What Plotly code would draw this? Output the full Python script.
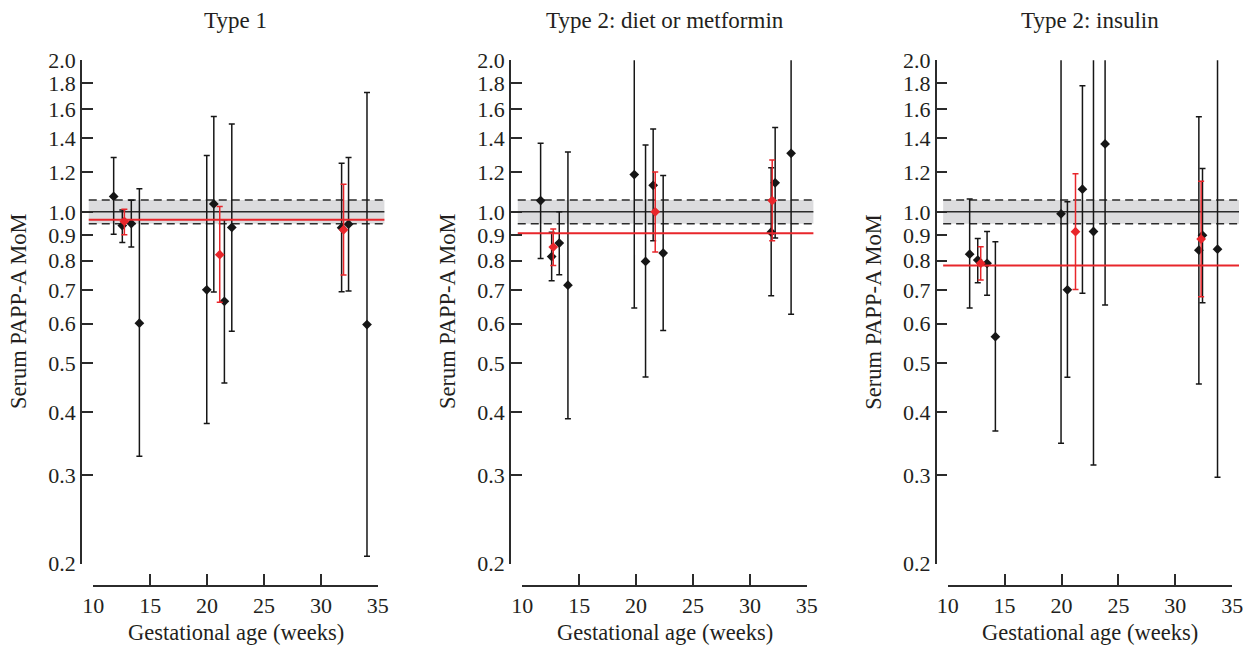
import math
import plotly.graph_objects as go

# ---------------- data ----------------
panel_titles = ["Type 1", "Type 2: diet or metformin", "Type 2: insulin"]

# Type 1 – individual studies (black)
t1_week = [11.79, 12.55, 13.34, 14.05, 19.97, 20.59, 21.52, 22.17, 31.82, 32.43, 34.05]
t1_mom = [1.073, 0.939, 0.948, 0.601, 0.700, 1.037, 0.664, 0.931, 0.930, 0.945, 0.597]
t1_lo = [0.903, 0.869, 0.851, 0.327, 0.380, 0.693, 0.457, 0.579, 0.694, 0.696, 0.207]
t1_hi = [1.282, 1.009, 1.055, 1.112, 1.294, 1.546, 0.964, 1.495, 1.249, 1.282, 1.727]
# Type 1 – pooled by trimester (red)
t1_pool_week = [12.73, 21.11, 31.99]
t1_pool_mom = [0.957, 0.822, 0.921]
t1_pool_lo = [0.900, 0.661, 0.749]
t1_pool_hi = [1.012, 1.025, 1.135]
t1_overall = 0.964

# Type 2 diet or metformin – individual studies
t2d_week = [11.61, 12.58, 13.25, 14.01, 19.84, 20.83, 21.50, 22.38, 31.87, 32.22, 33.62]
t2d_mom = [1.053, 0.815, 0.867, 0.715, 1.186, 0.797, 1.129, 0.828, 0.911, 1.142, 1.307]
t2d_lo = [0.808, 0.730, 0.750, 0.388, 0.644, 0.470, 0.876, 0.581, 0.681, 0.887, 0.626]
t2d_hi = [1.369, 0.911, 1.000, 1.315, 2.350, 1.358, 1.461, 1.181, 1.224, 1.470, 2.200]
# Type 2 diet or metformin – pooled
t2d_pool_week = [12.72, 21.68, 31.96]
t2d_pool_mom = [0.851, 1.000, 1.053]
t2d_pool_lo = [0.782, 0.832, 0.876]
t2d_pool_hi = [0.925, 1.200, 1.268]
t2d_overall = 0.907

# Type 2 insulin – individual studies
t2i_week = [11.93, 12.64, 13.46, 14.19, 19.96, 20.52, 21.84, 22.81, 23.83, 32.07, 32.39, 33.71]
t2i_mom = [0.824, 0.802, 0.790, 0.565, 0.991, 0.700, 1.109, 0.914, 1.364, 0.839, 0.898, 0.843]
t2i_lo = [0.644, 0.723, 0.683, 0.367, 0.347, 0.469, 0.689, 0.314, 0.653, 0.455, 0.660, 0.297]
t2i_hi = [1.060, 0.885, 0.914, 0.872, 2.400, 1.047, 1.781, 2.250, 2.300, 1.544, 1.219, 2.600]
# Type 2 insulin – pooled
t2i_pool_week = [12.90, 21.23, 32.27]
t2i_pool_mom = [0.790, 0.913, 0.883]
t2i_pool_lo = [0.732, 0.701, 0.678]
t2i_pool_hi = [0.852, 1.190, 1.150]
t2i_overall = 0.782

# unaffected reference: 1.0 MoM with its interval
ref_mom = 1.0
ref_lo = 0.947
ref_hi = 1.056
ref_span = [9.6, 35.6]

y_ticks = [0.2, 0.3, 0.4, 0.5, 0.6, 0.7, 0.8, 0.9, 1.0, 1.2, 1.4, 1.6, 1.8, 2.0]
x_ticks = [10, 15, 20, 25, 30, 35]

panels = [
    (t1_week, t1_mom, t1_lo, t1_hi, t1_pool_week, t1_pool_mom, t1_pool_lo, t1_pool_hi, t1_overall),
    (t2d_week, t2d_mom, t2d_lo, t2d_hi, t2d_pool_week, t2d_pool_mom, t2d_pool_lo, t2d_pool_hi, t2d_overall),
    (t2i_week, t2i_mom, t2i_lo, t2i_hi, t2i_pool_week, t2i_pool_mom, t2i_pool_lo, t2i_pool_hi, t2i_overall),
]

# ---------------- layout geometry (pixels) ----------------
W, H = 1251, 647
yaxis_px = [82.0, 511.0, 936.7]      # left spine of each panel
x10_px = [93.3, 522.3, 947.7]        # where week 10 sits
px_per_week = 11.38
y_top_px, y_bot_px = 60.3, 563.7     # 2.0 and 0.2
xaxis_px = 584.5                     # bottom spine

FONT = "Liberation Serif, DejaVu Serif, serif"
TXT = "#231f20"
LINE = "#2b2b2b"
RED = "#e8262b"
BLACK = "#161616"
BAND = "#dcdcde"


def fx(p):
    return p / W


def fy(p):
    return 1 - p / H


fig = go.Figure()
layout = dict(
    template="none",
    width=W, height=H,
    margin=dict(l=0, r=0, t=0, b=0, pad=0),
    paper_bgcolor="white", plot_bgcolor="rgba(0,0,0,0)",
    showlegend=False,
    font=dict(family=FONT, color=TXT, size=22),
    annotations=[],
)

for i, (wk, mom, lo, hi, pwk, pmom, plo, phi, overall) in enumerate(panels):
    d = i + 1          # data axes
    a = i + 4          # bottom-spine axes
    xd, yd = f"x{d}", f"y{d}"
    xa, ya = f"x{a}", f"y{a}"

    x_left = 10 - (x10_px[i] - yaxis_px[i]) / px_per_week
    x_right = ref_span[1]
    layout[f"xaxis{d}"] = dict(
        domain=[fx(yaxis_px[i]), fx(x10_px[i] + (x_right - 10) * px_per_week)],
        range=[x_left, x_right], visible=False, anchor=yd, fixedrange=True,
        automargin=False,
    )
    layout[f"yaxis{d}"] = dict(
        domain=[fy(y_bot_px), fy(y_top_px)],
        type="log", range=[math.log10(min(y_ticks)), math.log10(max(y_ticks))],
        anchor=xd, showgrid=False, zeroline=False, automargin=False,
        showline=True, linecolor=LINE, linewidth=1.5,
        ticks="inside", ticklen=11, tickwidth=1.5, tickcolor=LINE,
        tickvals=y_ticks, ticktext=[f"{v:.1f}" for v in y_ticks],
        tickfont=dict(family=FONT, size=22, color=TXT),
    )
    layout[f"xaxis{a}"] = dict(
        domain=[fx(x10_px[i]), fx(x10_px[i] + 25 * px_per_week)],
        range=[min(x_ticks), max(x_ticks)], anchor=ya, showgrid=False, zeroline=False,
        automargin=False,
        showline=True, linecolor=LINE, linewidth=1.5,
        ticks="inside", ticklen=11, tickwidth=1.5, tickcolor=LINE,
        tickvals=x_ticks, tickfont=dict(family=FONT, size=22, color=TXT),
    )
    layout[f"yaxis{a}"] = dict(
        domain=[fy(xaxis_px), fy(xaxis_px) + 0.01], range=[0, 1],
        visible=False, anchor=xa, automargin=False,
    )

    # keeps the bottom-spine subplot alive
    fig.add_trace(go.Scatter(x=[], y=[], xaxis=xa, yaxis=ya, hoverinfo="skip"))

    # reference band and its limits
    fig.add_trace(go.Scatter(
        x=[ref_span[0], ref_span[1], ref_span[1], ref_span[0]],
        y=[ref_lo, ref_lo, ref_hi, ref_hi],
        fill="toself", fillcolor=BAND, mode="none",
        xaxis=xd, yaxis=yd, hoverinfo="skip",
    ))
    for lim in (ref_lo, ref_hi):
        fig.add_trace(go.Scatter(
            x=ref_span, y=[lim, lim], mode="lines",
            line=dict(color=LINE, width=1.5, dash="8px,5px"),
            xaxis=xd, yaxis=yd, hoverinfo="skip",
        ))
    fig.add_trace(go.Scatter(
        x=ref_span, y=[ref_mom, ref_mom], mode="lines",
        line=dict(color=LINE, width=1.5), xaxis=xd, yaxis=yd, hoverinfo="skip",
    ))

    # individual studies
    fig.add_trace(go.Scatter(
        x=wk, y=mom, mode="markers",
        marker=dict(symbol="diamond", size=7.5, color=BLACK),
        error_y=dict(type="data", symmetric=False,
                     array=[h - m for h, m in zip(hi, mom)],
                     arrayminus=[m - l for m, l in zip(mom, lo)],
                     color=BLACK, thickness=1.5, width=3),
        xaxis=xd, yaxis=yd,
    ))

    # overall pooled estimate
    fig.add_trace(go.Scatter(
        x=ref_span, y=[overall, overall], mode="lines",
        line=dict(color=RED, width=2), xaxis=xd, yaxis=yd, hoverinfo="skip",
    ))

    # pooled estimates by trimester
    fig.add_trace(go.Scatter(
        x=pwk, y=pmom, mode="markers",
        marker=dict(symbol="diamond", size=7.5, color=RED),
        error_y=dict(type="data", symmetric=False,
                     array=[h - m for h, m in zip(phi, pmom)],
                     arrayminus=[m - l for m, l in zip(pmom, plo)],
                     color=RED, thickness=1.5, width=3),
        xaxis=xd, yaxis=yd,
    ))

    cx = fx(x10_px[i] + 12.5 * px_per_week)
    layout["annotations"] += [
        dict(text=panel_titles[i], x=cx, y=fy(20), xref="paper", yref="paper",
             xanchor="center", yanchor="middle", showarrow=False,
             font=dict(family=FONT, size=23, color=TXT)),
        dict(text="Gestational age (weeks)", x=cx, y=fy(632), xref="paper", yref="paper",
             xanchor="center", yanchor="middle", showarrow=False,
             font=dict(family=FONT, size=22.5, color=TXT)),
        dict(text="Serum PAPP-A MoM", textangle=-90,
             x=fx(yaxis_px[i] - 64), y=fy((y_top_px + y_bot_px) / 2),
             xref="paper", yref="paper", xanchor="center", yanchor="middle",
             showarrow=False, font=dict(family=FONT, size=22.5, color=TXT)),
    ]

fig.update_layout(**layout)
fig.write_html("out.html")
